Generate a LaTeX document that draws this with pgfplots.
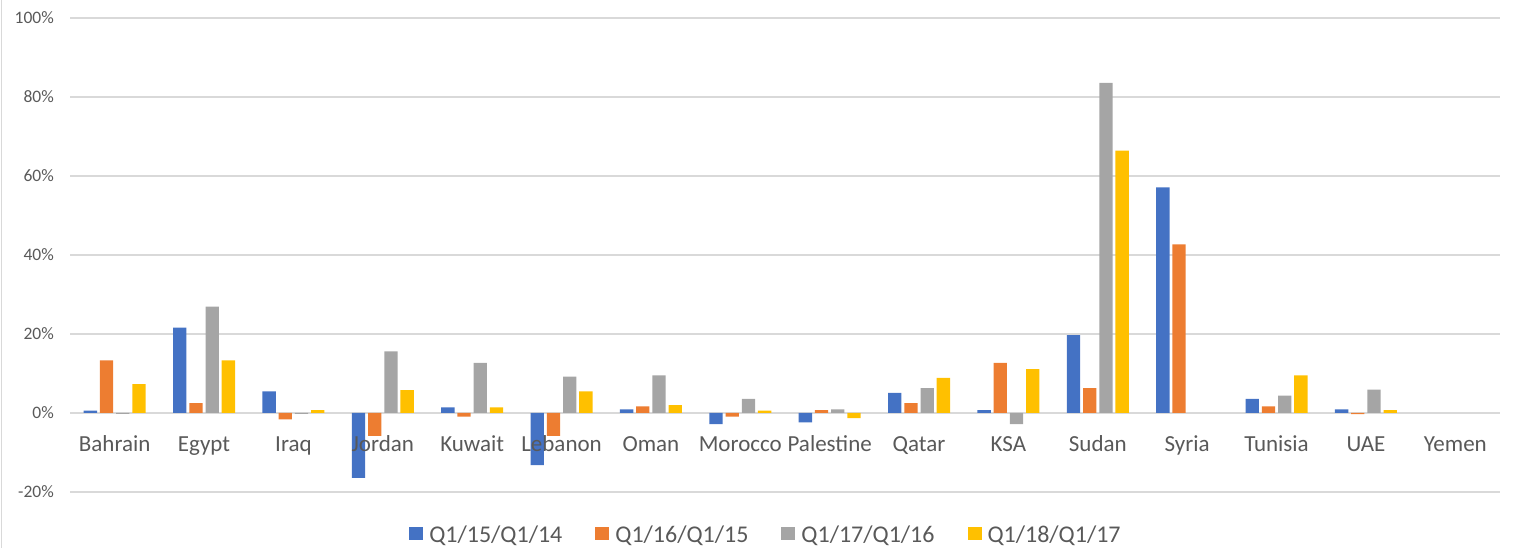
\documentclass[border=0pt]{standalone}
\usepackage{pgfplots}
\pgfplotsset{compat=1.18}
\usepackage{fontspec}
\setmainfont{Carlito}
\definecolor{cblue}{HTML}{4472C4}
\definecolor{corange}{HTML}{ED7D31}
\definecolor{cgray}{HTML}{A5A5A5}
\definecolor{cyellow}{HTML}{FFC000}
\definecolor{tickgray}{HTML}{595959}
\definecolor{gridgray}{HTML}{D9D9D9}

\begin{document}
\begin{tikzpicture}
\draw[gridgray, line width=1pt] (1.5pt,0pt) -- (1.5pt,548pt);
\begin{axis}[
  at={(70pt,56pt)}, anchor=south west,
  scale only axis, width=1430pt, height=474pt,
  ybar=2.9pt, bar width=13.3pt,
  xmin=-0.5, xmax=15.5, ymin=-20, ymax=100,
  xtick={0,...,15},
  xticklabels={},
  ytick={-20,0,20,40,60,80,100},
  yticklabels={-20\%,0\%,20\%,40\%,60\%,80\%,100\%},
  major tick length=0pt,
  axis line style={draw=none},
  ymajorgrids, grid style={gridgray, line width=1.3pt},
  yticklabel style={font=\fontsize{17.5}{20}\selectfont, text=tickgray, anchor=east, inner sep=0pt, xshift=-16pt},
  legend columns=4,
  legend style={at={(0.4867,-0.091)}, anchor=center, draw=none, fill=none,
    font=\fontsize{24}{28}\selectfont, text=tickgray,
    /tikz/every odd column/.append style={column sep=4pt},
    /tikz/every even column/.append style={column sep=31pt}},
  legend image code/.code={\fill[#1] (0pt,-5pt) rectangle (14pt,8pt);},
  after end axis/.code={
    \foreach \i/\n in {0/Bahrain,1/Egypt,2/Iraq,3/Jordan,4/Kuwait,5/Lebanon,6/Oman,7/Morocco,8/Palestine,9/Qatar,10/KSA,11/Sudan,12/Syria,13/Tunisia,14/UAE,15/Yemen}{
      \node[font=\fontsize{23}{27}\selectfont, text=tickgray, anchor=base, inner sep=0pt, yshift=-39pt] at (axis cs:\i,0) {\n};
    }
  },
]
\addplot[fill=cblue, draw=none] coordinates {
(0,0.6) (1,21.6) (2,5.5) (3,-16.4) (4,1.4) (5,-13.2) (6,0.9) (7,-2.8)
(8,-2.4) (9,5.1) (10,0.7) (11,19.7) (12,57.1) (13,3.6) (14,0.9)};
\addplot[fill=corange, draw=none] coordinates {
(0,13.3) (1,2.5) (2,-1.6) (3,-5.8) (4,-0.9) (5,-5.8) (6,1.7) (7,-0.9)
(8,0.7) (9,2.5) (10,12.7) (11,6.3) (12,42.7) (13,1.7) (14,-0.3)};
\addplot[fill=cgray, draw=none] coordinates {
(0,-0.2) (1,26.9) (2,-0.2) (3,15.6) (4,12.7) (5,9.2) (6,9.5) (7,3.6)
(8,0.9) (9,6.3) (10,-2.8) (11,83.6) (13,4.4) (14,5.9)};
\addplot[fill=cyellow, draw=none] coordinates {
(0,7.3) (1,13.3) (2,0.7) (3,5.8) (4,1.4) (5,5.5) (6,2.0) (7,0.6)
(8,-1.3) (9,8.9) (10,11.1) (11,66.4) (13,9.5) (14,0.7)};
\legend{Q1/15/Q1/14,Q1/16/Q1/15,Q1/17/Q1/16,Q1/18/Q1/17}
\end{axis}
\pgfresetboundingbox
\path[use as bounding box] (0pt,0pt) rectangle (1519pt,548pt);
\end{tikzpicture}
\end{document}
